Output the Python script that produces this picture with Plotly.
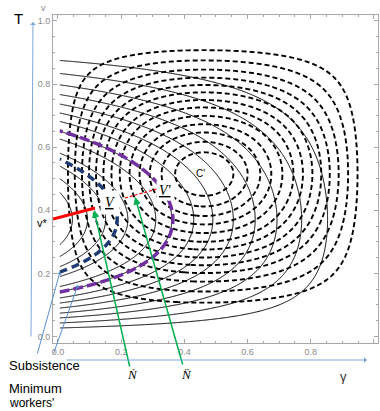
import numpy as np
import plotly.graph_objects as go

# ---------------- data ----------------
# Dashed family (cycles around C'): gamma where each dashed contour crosses
# the horizontal line through the centre (right-hand side)
dashed_gamma_cross = [0.555, 0.60, 0.64, 0.675, 0.71, 0.745, 0.775, 0.805,
                      0.833, 0.86, 0.888, 0.918, 0.948]
# Solid family: v where each solid contour meets the left edge (lower branch)
solid_v_cross = [0.027, 0.043, 0.059, 0.074, 0.090, 0.106, 0.122, 0.142,
                 0.158, 0.190, 0.221, 0.253, 0.290]
purple_v_cross = [0.141]   # "Minimum workers'" curve
blue_v_cross = [0.204]     # "Subsistence" curve

# shape parameters of the two families (fitted to the picture)
dashed_params = dict(p=0.462, q=0.538, r=0.515, s=0.485, w=1.806)
solid_params = dict(k=0.58, r=0.59, s=1.0)

x_tick_vals = [0.0, 0.2, 0.4, 0.6, 0.8, 1.0]
y_tick_vals = [0.0, 0.2, 0.4, 0.6, 0.8, 1.0]

# v* ray (thick red) and V-V' segment (thin red dashed)
red_thick_x = [-0.0158, 0.117]
red_thick_y = [0.3724, 0.4073]
red_thin_x = [0.212, 0.313]
red_thin_y = [0.439, 0.4675]

# ---------------- fields ----------------
def f_dashed(g, v, p, q, r, s, w):
    return -p*np.log(g) - q*np.log(1-g) + w*(-r*np.log(v) - s*np.log(1-v))

def f_solid(g, v, k, r, s):
    return -k*np.log(1-g) - r*np.log(v) - s*np.log(1-v)

g_edge = 0.005
gx = g_edge + (0.992 - g_edge)*np.linspace(0, 1, 380)**1.25
gy = np.linspace(0.005, 0.995, 380)
G, V = np.meshgrid(gx, gy)

Fd = f_dashed(G, V, **dashed_params)
Fs = f_solid(G, V, **solid_params)

v0d = dashed_params['r']/(dashed_params['r']+dashed_params['s'])
dashed_levels = np.sort(f_dashed(np.array(dashed_gamma_cross), v0d, **dashed_params))
solid_levels = np.sort(f_solid(g_edge, np.array(solid_v_cross), **solid_params))
purple_level = f_solid(g_edge, np.array(purple_v_cross), **solid_params)[0]
blue_level = f_solid(g_edge, np.array(blue_v_cross), **solid_params)[0]

def to_index(Z, levels):
    L = np.asarray(levels)
    n = len(L)
    idx = np.interp(Z, L, np.arange(1, n+1))
    lo = Z < L[0]
    hi = Z > L[-1]
    idx[lo] = 1 + (Z[lo]-L[0])/(L[1]-L[0])
    idx[hi] = n + (Z[hi]-L[-1])/(L[-1]-L[-2])
    return idx.astype(np.float32)

Zd = to_index(Fd, dashed_levels)
Zs = to_index(Fs, solid_levels)

fig = go.Figure()
fig.add_trace(go.Contour(
    x=gx, y=gy, z=Zs, autocontour=False,
    contours=dict(start=1, end=len(solid_levels), size=1, coloring='none'),
    line=dict(color='black', width=1, smoothing=1),
    showscale=False, hoverinfo='skip'))
fig.add_trace(go.Contour(
    x=gx, y=gy, z=Zd, autocontour=False,
    contours=dict(start=1, end=len(dashed_levels), size=1, coloring='none'),
    line=dict(color='black', width=1.9, dash='5px,3px', smoothing=1),
    showscale=False, hoverinfo='skip'))
Fs32 = Fs.astype(np.float32)
fig.add_trace(go.Contour(
    x=gx, y=gy, z=Fs32, autocontour=False,
    contours=dict(start=purple_level, end=purple_level, size=1, coloring='none'),
    line=dict(color='#7030A0', width=3.5, dash='10px,4px', smoothing=1),
    showscale=False, hoverinfo='skip'))
fig.add_trace(go.Contour(
    x=gx, y=gy, z=Fs32, autocontour=False,
    contours=dict(start=blue_level, end=blue_level, size=1, coloring='none'),
    line=dict(color='#1F3B73', width=3.5, dash='8px,5px', smoothing=1),
    showscale=False, hoverinfo='skip'))

# red lines
fig.add_trace(go.Scatter(x=red_thick_x, y=red_thick_y, mode='lines',
                         line=dict(color='#FF0000', width=3), hoverinfo='skip'))
fig.add_trace(go.Scatter(x=red_thin_x, y=red_thin_y, mode='lines',
                         line=dict(color='#FF0000', width=1.2, dash='3px,2px'),
                         hoverinfo='skip'))

frame = '#a8a8a8'
tickfont = dict(family='Liberation Sans, Arial', size=9, color='#8a8a8a')
fig.update_layout(
    width=380, height=411,
    margin=dict(l=53, r=2, t=15, b=68),
    plot_bgcolor='white', paper_bgcolor='white', showlegend=False,
    xaxis=dict(range=[-0.0158, 1.0127], showgrid=False, zeroline=False,
               showline=True, linecolor=frame, linewidth=1, mirror='ticks',
               ticks='inside', ticklen=4, tickcolor=frame, tickwidth=1,
               tickvals=x_tick_vals, ticktext=[f'{t:.1f}' for t in x_tick_vals],
               tickfont=tickfont,
               minor=dict(dtick=0.05, tick0=0, ticks='inside', ticklen=2,
                          tickcolor=frame)),
    yaxis=dict(range=[-0.0206, 1.019], showgrid=False, zeroline=False,
               showline=True, linecolor=frame, linewidth=1, mirror='ticks',
               ticks='inside', ticklen=4, tickcolor=frame, tickwidth=1,
               tickvals=y_tick_vals, ticktext=[f'{t:.1f}' for t in y_tick_vals],
               tickfont=tickfont,
               minor=dict(dtick=0.05, tick0=0, ticks='inside', ticklen=2,
                          tickcolor=frame)),
)

sans = 'Liberation Sans, Arial'
serif = 'Liberation Serif, Times New Roman'
ann = []
def ptxt(px, py, text, size=13, color='black', family=sans, xanchor='center'):
    ann.append(dict(xref='paper', yref='paper', x=(px-53)/325, y=(343-py)/328,
                    text=text, showarrow=False, xanchor=xanchor, yanchor='middle',
                    font=dict(family=family, size=size, color=color)))

ptxt(18, 18, 'T', size=15)
ptxt(43, 8, 'v', size=9, color='#8a8a8a')
ptxt(42, 223, 'v*', size=11)
ptxt(343, 376, 'γ', size=13, color='#333333')
ptxt(7, 365, 'Subsistence', size=13, xanchor='left')
ptxt(7, 388, 'Minimum', size=13, xanchor='left')
ptxt(7, 403, "workers'", size=12, xanchor='left')
ptxt(132, 374, '<i>Ṅ</i>', size=13, family=serif)
ptxt(186, 374, '<i>N̈</i>', size=13, family=serif)

# labels inside the plot (data coords)
ann.append(dict(x=0.4525, y=0.518, text="C'", showarrow=False,
                font=dict(family=sans, size=10, color='black')))
ann.append(dict(x=0.165, y=0.426, text='<i><u>V</u></i>', showarrow=False,
                bgcolor='white', borderpad=4,
                font=dict(family=serif, size=14, color='black')))
ann.append(dict(x=0.339, y=0.464, text="<i><u>V'</u></i>", showarrow=False,
                bgcolor='white', borderpad=2,
                font=dict(family=serif, size=14, color='black')))

# green arrows (tip in data coords, tail offset in pixels)
green = '#00B050'
ann.append(dict(x=0.114, y=0.401, ax=36, ay=158, axref='pixel', ayref='pixel',
                text='', showarrow=True, arrowhead=2, arrowsize=1, arrowwidth=1.5,
                arrowcolor=green))
ann.append(dict(x=0.244, y=0.442, ax=48, ay=169, axref='pixel', ayref='pixel',
                text='', showarrow=True, arrowhead=2, arrowsize=1, arrowwidth=1.5,
                arrowcolor=green))

# light blue axis arrows and leaders
lblue = '#7EA6D8'
ann.append(dict(xref='paper', yref='paper', x=(33-53)/325, y=(343-22)/328,
                ax=-2, ay=316, text='', showarrow=True, arrowhead=1,
                arrowsize=1, arrowwidth=1, arrowcolor=lblue))
ann.append(dict(xref='paper', yref='paper', x=(367-53)/325, y=(343-360)/328,
                ax=-302, ay=0, text='', showarrow=True, arrowhead=1,
                arrowsize=1, arrowwidth=1, arrowcolor=lblue))
ann.append(dict(x=0.0063, y=0.2044, ax=-23, ay=83, text='', showarrow=True,
                arrowhead=1, arrowsize=0.8, arrowwidth=1, arrowcolor='#5B8FD0'))
ann.append(dict(x=0.0633, y=0.1632, ax=-25, ay=70, text='', showarrow=True,
                arrowhead=1, arrowsize=0.8, arrowwidth=1, arrowcolor='#5B8FD0'))

fig.update_layout(annotations=ann)
fig.write_html('out.html', config={'displayModeBar': False})
